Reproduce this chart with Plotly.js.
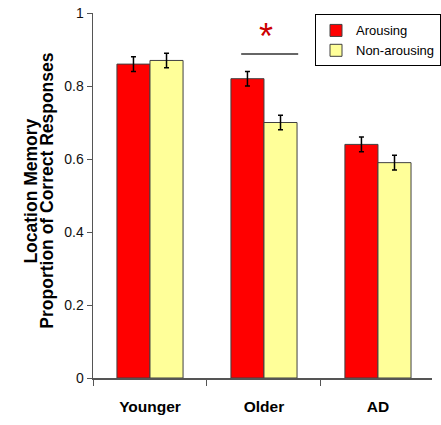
<!DOCTYPE html>
<html>
<head>
<meta charset="utf-8">
<script src="https://cdn.plot.ly/plotly-3.0.1.min.js"></script>
<style>html,body{margin:0;padding:0;background:#fff;}#chart{width:441px;height:425px;}</style>
</head>
<body>
<div id="chart"></div>
<script>
const categories = ["Younger", "Older", "AD"];
const arousing = [0.86, 0.82, 0.64];
const arousingErr = [0.02, 0.02, 0.02];
const nonArousing = [0.87, 0.70, 0.59];
const nonArousingErr = [0.02, 0.02, 0.02];
const yTicks = [0, 0.2, 0.4, 0.6, 0.8, 1];
const yTickLabels = ["0", "0.2", "0.4", "0.6", "0.8", "1"];
const yTitleLines = ["Location Memory", "Proportion of Correct Responses"];
const sigLine = {x0: 0.80, x1: 1.30, y: 0.888};
const sigStar = {x: 1.02, y: 0.935, text: "*"};

const font = "Liberation Sans, Arial, sans-serif";

const traces = [
  {
    type: "bar", name: "Arousing", x: categories, y: arousing,
    marker: {color: "#FF0000", line: {color: "#404040", width: 1}},
    error_y: {type: "data", array: arousingErr, visible: true, color: "#000", thickness: 1.5, width: 2.5}
  },
  {
    type: "bar", name: "Non-arousing", x: categories, y: nonArousing,
    marker: {color: "#FFFF99", line: {color: "#404040", width: 1}},
    error_y: {type: "data", array: nonArousingErr, visible: true, color: "#000", thickness: 1.5, width: 2.5}
  }
];

const layout = {
  width: 441, height: 425,
  margin: {l: 93, r: 0, t: 12.5, b: 47, pad: 0},
  paper_bgcolor: "#fff", plot_bgcolor: "#fff",
  barmode: "group", bargap: 0.42, bargroupgap: 0,
  showlegend: true,
  font: {family: font, size: 12, color: "#000"},
  xaxis: {
    type: "category", range: [-0.5, 2.474], fixedrange: true,
    showline: true, linecolor: "#555", linewidth: 1.5,
    ticks: "outside", tickson: "boundaries", ticklen: 6, tickcolor: "#555", tickwidth: 1,
    tickfont: {family: font, size: 15.5, color: "#000", weight: "bold"},
    ticklabelstandoff: 14,
    showgrid: false, zeroline: false
  },
  yaxis: {
    range: [0, 1], tickvals: yTicks, ticktext: yTickLabels,
    showline: true, linecolor: "#555", linewidth: 1.5,
    ticks: "outside", ticklen: 5, tickcolor: "#555", tickwidth: 1,
    tickfont: {family: font, size: 14, color: "#111"},
    showgrid: false, zeroline: false
  },
  legend: {
    x: 0.655, y: 0.996, xanchor: "left", yanchor: "top",
    bgcolor: "#fff", bordercolor: "#000", borderwidth: 1,
    font: {family: font, size: 13, color: "#000"},
    tracegroupgap: 0, itemwidth: 30
  },
  shapes: [
    {type: "line", xref: "x", yref: "y", x0: sigLine.x0, x1: sigLine.x1, y0: sigLine.y, y1: sigLine.y,
     line: {color: "#333", width: 1.5}}
  ],
  annotations: [
    {xref: "x", yref: "y", x: sigStar.x, y: sigStar.y, text: sigStar.text, showarrow: false,
     font: {family: font, size: 36, color: "#CC0000"}},
    {xref: "paper", yref: "paper", x: (17.5 - 93) / 348, y: 0.512, textangle: -90, showarrow: false,
     text: "<b>" + yTitleLines[0] + "</b>",
     font: {family: font, size: 17.5, color: "#000"}},
    {xref: "paper", yref: "paper", x: (34 - 93) / 348, y: 0.512, textangle: -90, showarrow: false,
     text: "<b>" + yTitleLines[1] + "</b>",
     font: {family: font, size: 17.5, color: "#000"}}
  ]
};

Plotly.newPlot("chart", traces, layout, {displayModeBar: false, staticPlot: true});
</script>
</body>
</html>
